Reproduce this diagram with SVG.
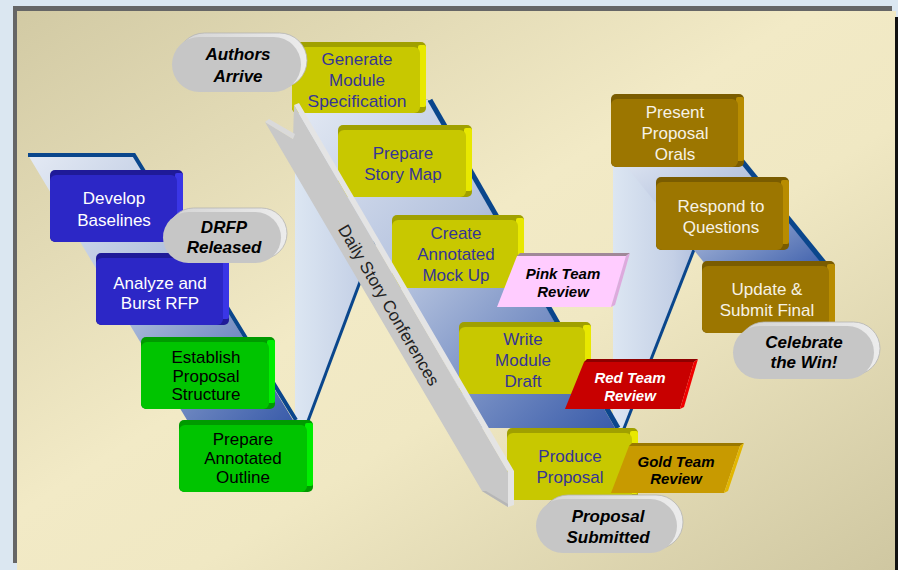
<svg xmlns="http://www.w3.org/2000/svg" width="898" height="570" viewBox="0 0 898 570">
  <defs>
    <linearGradient id="panelGrad" x1="0" y1="0" x2="1" y2="1">
      <stop offset="0" stop-color="#d2caa4"/>
      <stop offset="0.45" stop-color="#f2eac6"/>
      <stop offset="0.6" stop-color="#f0e8c3"/>
      <stop offset="1" stop-color="#cfc7a1"/>
    </linearGradient>
    <linearGradient id="ribbonGrad" x1="0" y1="0" x2="1" y2="1">
      <stop offset="0" stop-color="#e4eaf4"/>
      <stop offset="0.45" stop-color="#b4c2de"/>
      <stop offset="1" stop-color="#3a5caa"/>
    </linearGradient>
    <linearGradient id="foldGrad" x1="0" y1="0" x2="1" y2="0">
      <stop offset="0" stop-color="#dce6f2"/>
      <stop offset="0.5" stop-color="#c4d0e6"/>
      <stop offset="1" stop-color="#95a8d2"/>
    </linearGradient>
    <linearGradient id="rimGrad" x1="0" y1="0" x2="1" y2="0">
      <stop offset="0" stop-color="#d4d4d4"/>
      <stop offset="1" stop-color="#ececec"/>
    </linearGradient>
    <style>
      .lbl{font-family:"Liberation Sans",Arial,sans-serif;font-size:17px;text-anchor:middle}
      .bold{font-family:"Liberation Sans",Arial,sans-serif;font-weight:bold;font-style:italic;text-anchor:middle}
      .pill text{font-size:17px;fill:#000}
      .tag text{font-size:15px}
      .edge{fill:none;stroke:#0a468c;stroke-linejoin:miter}
      .blue .bt{fill:#1f1a98}.blue .bs{fill:#3a36e6}.blue .bf{fill:#2c27c6}.blue text{fill:#ffffff}
      .green .bt{fill:#009a00}.green .bs{fill:#00ee00}.green .bf{fill:#00c400}.green text{fill:#000000}
      .yel .bt{fill:#a0a000}.yel .bs{fill:#e8e800}.yel .bf{fill:#c8c800}.yel text{fill:#353595}
      .brown .bt{fill:#7a5c00}.brown .bs{fill:#b88c00}.brown .bf{fill:#9c7600}.brown text{fill:#f6f2e6}
      .rim{fill:url(#rimGrad);stroke:#b4b4b4;stroke-width:0.8}
      .pface{fill:#c6c6c6}
    </style>
  </defs>

  <!-- backdrop and framed panel -->
  <rect width="898" height="570" fill="#dbe7f1"/>
  <rect x="13" y="6" width="879" height="557" fill="#666666"/>
  <rect x="17" y="11" width="879" height="559" fill="url(#panelGrad)"/>
  <rect x="895" y="17" width="3" height="553" fill="#111111"/>

  <!-- folded ribbon linking the three phases -->
  <g id="connectors">
    <polygon points="295,100 428,100 308,420 295,420" fill="url(#foldGrad)"/>
    <polygon points="613,150 733,150 623,430 613,430" fill="url(#foldGrad)"/>
    <line class="edge" x1="308" y1="421" x2="428" y2="100" stroke-width="3"/>
    <line class="edge" x1="623" y1="431" x2="733" y2="150" stroke-width="3"/>
    <polygon points="28,155 133,155 293,420 187,420" fill="url(#ribbonGrad)"/>
    <polygon points="295,100 428,100 615,428 482,428" fill="url(#ribbonGrad)"/>
    <polygon points="613,150 731,150 828,270 710,270" fill="url(#ribbonGrad)"/>
    <polyline class="edge" points="28,155 134,155 296,420" stroke-width="4"/>
    <line class="edge" x1="430" y1="100" x2="618" y2="428" stroke-width="5"/>
    <line class="edge" x1="733" y1="150" x2="830" y2="270" stroke-width="5"/>
  </g>

  <!-- phase 1: blue / green steps -->
  <g id="develop-baselines" class="blue" transform="translate(50,170)">
    <rect class="bt" width="133" height="72" rx="5"/>
    <rect class="bs" x="125" y="3" width="8" height="63" rx="2"/>
    <rect class="bf" y="5" width="127" height="67" rx="6"/>
    <text class="lbl" x="64" y="34">Develop</text>
    <text class="lbl" x="64" y="56">Baselines</text>
  </g>
  <g id="analyze-rfp" class="blue" transform="translate(96,253)">
    <rect class="bt" width="133" height="72" rx="5"/>
    <rect class="bs" x="125" y="3" width="8" height="63" rx="2"/>
    <rect class="bf" y="5" width="127" height="67" rx="6"/>
    <text class="lbl" x="64" y="36">Analyze and</text>
    <text class="lbl" x="64" y="56">Burst RFP</text>
  </g>
  <g id="establish-structure" class="green" transform="translate(141,337)">
    <rect class="bt" width="134" height="72" rx="5"/>
    <rect class="bs" x="126" y="3" width="8" height="63" rx="2"/>
    <rect class="bf" y="5" width="128" height="67" rx="6"/>
    <text class="lbl" x="65" y="26">Establish</text>
    <text class="lbl" x="65" y="45">Proposal</text>
    <text class="lbl" x="65" y="63">Structure</text>
  </g>
  <g id="annotated-outline" class="green" transform="translate(179,420)">
    <rect class="bt" width="134" height="72" rx="5"/>
    <rect class="bs" x="126" y="3" width="8" height="63" rx="2"/>
    <rect class="bf" y="5" width="128" height="67" rx="6"/>
    <text class="lbl" x="64" y="25">Prepare</text>
    <text class="lbl" x="64" y="44">Annotated</text>
    <text class="lbl" x="64" y="63">Outline</text>
  </g>

  <!-- phase 2: yellow steps -->
  <g id="module-spec" class="yel" transform="translate(292,42)">
    <rect class="bt" width="134" height="71" rx="5"/>
    <rect class="bs" x="126" y="3" width="8" height="62" rx="2"/>
    <rect class="bf" y="5" width="128" height="66" rx="6"/>
    <text class="lbl" x="65" y="23">Generate</text>
    <text class="lbl" x="65" y="44">Module</text>
    <text class="lbl" x="65" y="65" textLength="99" lengthAdjust="spacingAndGlyphs">Specification</text>
  </g>
  <g id="story-map" class="yel" transform="translate(338,125)">
    <rect class="bt" width="134" height="72" rx="5"/>
    <rect class="bs" x="126" y="3" width="8" height="63" rx="2"/>
    <rect class="bf" y="5" width="128" height="67" rx="6"/>
    <text class="lbl" x="65" y="34">Prepare</text>
    <text class="lbl" x="65" y="55">Story Map</text>
  </g>
  <g id="mock-up" class="yel" transform="translate(392,215)">
    <rect class="bt" width="132" height="73" rx="5"/>
    <rect class="bs" x="124" y="3" width="8" height="64" rx="2"/>
    <rect class="bf" y="5" width="126" height="68" rx="6"/>
    <text class="lbl" x="64" y="24">Create</text>
    <text class="lbl" x="64" y="45">Annotated</text>
    <text class="lbl" x="64" y="66">Mock Up</text>
  </g>
  <g id="module-draft" class="yel" transform="translate(459,322)">
    <rect class="bt" width="132" height="72" rx="5"/>
    <rect class="bs" x="124" y="3" width="8" height="63" rx="2"/>
    <rect class="bf" y="5" width="126" height="67" rx="6"/>
    <text class="lbl" x="64" y="23">Write</text>
    <text class="lbl" x="64" y="44">Module</text>
    <text class="lbl" x="64" y="65">Draft</text>
  </g>
  <g id="produce-proposal" class="yel" transform="translate(507,428)">
    <rect class="bt" width="131" height="72" rx="5"/>
    <rect class="bs" x="123" y="3" width="8" height="63" rx="2"/>
    <rect class="bf" y="5" width="125" height="67" rx="6"/>
    <text class="lbl" x="63" y="34">Produce</text>
    <text class="lbl" x="63" y="55">Proposal</text>
  </g>

  <!-- phase 3: brown steps -->
  <g id="orals" class="brown" transform="translate(611,94)">
    <rect class="bt" width="133" height="73" rx="5"/>
    <rect class="bs" x="125" y="3" width="8" height="64" rx="2"/>
    <rect class="bf" y="5" width="127" height="68" rx="6"/>
    <text class="lbl" x="64" y="24">Present</text>
    <text class="lbl" x="64" y="45">Proposal</text>
    <text class="lbl" x="64" y="66">Orals</text>
  </g>
  <g id="questions" class="brown" transform="translate(656,177)">
    <rect class="bt" width="133" height="73" rx="5"/>
    <rect class="bs" x="125" y="3" width="8" height="64" rx="2"/>
    <rect class="bf" y="5" width="127" height="68" rx="6"/>
    <text class="lbl" x="65" y="35">Respond to</text>
    <text class="lbl" x="65" y="56">Questions</text>
  </g>
  <g id="submit-final" class="brown" transform="translate(702,261)">
    <rect class="bt" width="133" height="72" rx="5"/>
    <rect class="bs" x="125" y="3" width="8" height="63" rx="2"/>
    <rect class="bf" y="5" width="127" height="67" rx="6"/>
    <text class="lbl" x="65" y="34">Update &amp;</text>
    <text class="lbl" x="65" y="55">Submit Final</text>
  </g>

  <!-- daily story conference arrow -->
  <g id="daily-conferences">
    <polygon points="265,122 293,139 294,105 508,472 508,507 482,491" fill="#c8c8c8"/>
    <polygon points="294,105 299,103 514,471 514,505 508,507 508,472" fill="#e4e4e4"/>
    <polygon points="265,122 269,119 295,134 293,139" fill="#dadada"/>
    <polygon points="482,491 508,507 508,504 486,491" fill="#b6b6b6"/>
    <text class="lbl" transform="translate(389,305) rotate(59.7)" y="6" fill="#222222">Daily Story Conferences</text>
  </g>

  <!-- colour team reviews -->
  <g id="pink-review" class="tag">
    <polygon points="497,307 517,256 626,256 611,307" fill="#ffccff"/>
    <polygon points="517,256 520,253 630,253 626,256" fill="#a08898"/>
    <polygon points="626,256 630,253 615,305 611,307" fill="#ddaadd"/>
    <text class="bold" x="563" y="279" fill="#000">Pink Team</text>
    <text class="bold" x="563" y="297" fill="#000">Review</text>
  </g>
  <g id="red-review" class="tag">
    <polygon points="565,409 584,362 694,362 680,409" fill="#c80000"/>
    <polygon points="584,362 587,359 698,359 694,362" fill="#8e0000"/>
    <polygon points="694,362 698,359 684,407 680,409" fill="#f00000"/>
    <text class="bold" x="630" y="383" fill="#ffffff">Red Team</text>
    <text class="bold" x="630" y="401" fill="#ffffff">Review</text>
  </g>
  <g id="gold-review" class="tag">
    <polygon points="611,493 629,446 740,446 724,493" fill="#c89a00"/>
    <polygon points="629,446 632,443 744,443 740,446" fill="#9a7800"/>
    <polygon points="740,446 744,443 728,491 724,493" fill="#e2b600"/>
    <text class="bold" x="676" y="467" fill="#000">Gold Team</text>
    <text class="bold" x="676" y="484" fill="#000">Review</text>
  </g>

  <!-- milestone capsules -->
  <g id="authors-arrive" class="pill">
    <rect class="rim" x="177" y="33" width="130" height="55" rx="27.5"/>
    <rect class="pface" x="172" y="37" width="129" height="55" rx="27.5"/>
    <text class="bold" x="238" y="60">Authors</text>
    <text class="bold" x="238" y="82">Arrive</text>
  </g>
  <g id="drfp-released" class="pill">
    <rect class="rim" x="168" y="208" width="119" height="51" rx="25.5"/>
    <rect class="pface" x="163" y="212" width="118" height="51" rx="25.5"/>
    <text class="bold" x="224" y="233">DRFP</text>
    <text class="bold" x="224" y="253">Released</text>
  </g>
  <g id="celebrate" class="pill">
    <rect class="rim" x="738" y="322" width="142" height="53" rx="26.5"/>
    <rect class="pface" x="733" y="326" width="141" height="53" rx="26.5"/>
    <text class="bold" x="804" y="348">Celebrate</text>
    <text class="bold" x="804" y="368">the Win!</text>
  </g>
  <g id="proposal-submitted" class="pill">
    <rect class="rim" x="541" y="495" width="142" height="54" rx="27"/>
    <rect class="pface" x="536" y="499" width="141" height="54" rx="27"/>
    <text class="bold" x="608" y="522">Proposal</text>
    <text class="bold" x="608" y="543">Submitted</text>
  </g>
</svg>
